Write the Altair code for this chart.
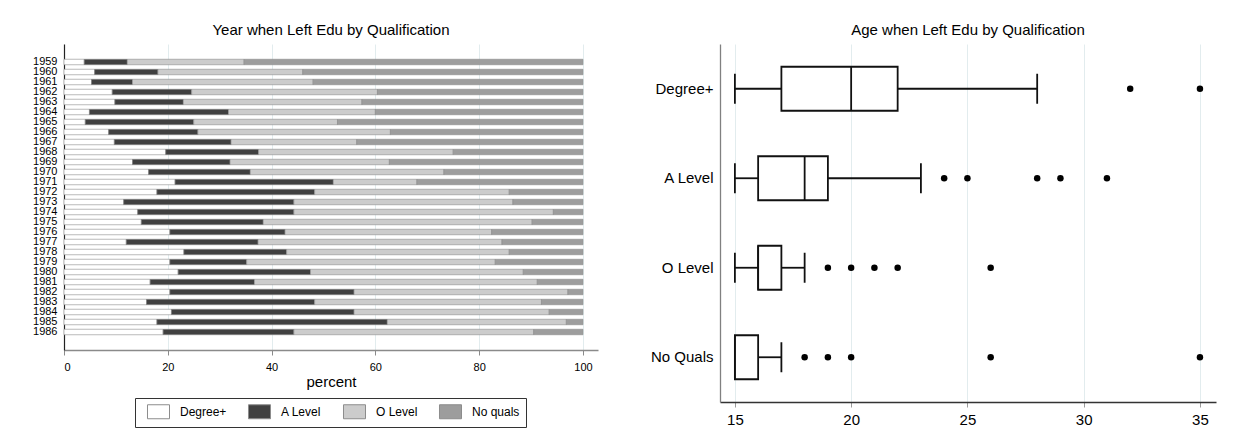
import altair as alt
import pandas as pd

FONT = "Liberation Sans"

# ---- left panel: share of each qualification by year left education (percent)
years = list(range(1959, 1987))
degree = [3.9, 5.9, 5.3, 9.3, 9.8, 4.9, 4.1, 8.6, 9.7, 19.6, 13.2, 16.3, 21.4, 17.9,
          11.5, 14.2, 14.9, 20.4, 12.0, 23.1, 20.4, 22.0, 16.6, 20.4, 15.9, 20.7, 17.9, 19.1]
a_level = [8.3, 12.2, 7.9, 15.3, 13.2, 26.8, 20.9, 17.2, 22.5, 17.9, 18.8, 19.6, 30.5, 30.4,
           32.8, 30.1, 23.5, 22.2, 25.4, 19.8, 14.8, 25.5, 20.1, 35.5, 32.4, 35.2, 44.4, 25.2]
o_level = [22.5, 27.9, 34.8, 35.8, 34.4, 28.3, 27.7, 37.1, 24.2, 37.5, 30.7, 37.3, 16.1, 37.5,
           42.2, 50.0, 51.8, 39.8, 47.0, 42.9, 47.9, 41.0, 54.5, 41.2, 43.7, 37.6, 34.5, 46.2]
no_quals = [65.3, 54.0, 52.0, 39.6, 42.6, 40.0, 47.3, 37.1, 43.6, 25.0, 37.3, 26.8, 32.0, 14.2,
            13.5, 5.7, 9.8, 17.6, 15.6, 14.2, 16.9, 11.5, 8.8, 2.9, 8.0, 6.5, 3.2, 9.5]
share_quals = ["Degree+", "A Level", "O Level", "No quals"]
share_shades = ["#ffffff", "#404040", "#cccccc", "#9d9d9d"]

# ---- right panel: age left education, box-plot summaries per qualification
box_groups = ["Degree+", "A Level", "O Level", "No Quals"]
whisker_lo = [15, 15, 15, 15]
quart_1 = [17, 16, 16, 15]
medians = [20, 18, 16, 15]
quart_3 = [22, 19, 17, 16]
whisker_hi = [28, 23, 18, 17]
outlier_group = ["Degree+", "Degree+",
                 "A Level", "A Level", "A Level", "A Level", "A Level",
                 "O Level", "O Level", "O Level", "O Level", "O Level",
                 "No Quals", "No Quals", "No Quals", "No Quals", "No Quals"]
outlier_age = [32, 35,
               24, 25, 28, 29, 31,
               19, 20, 21, 22, 26,
               18, 19, 20, 26, 35]

# long table for the stacked bars
rows = []
for i, yr in enumerate(years):
    for k, vals in enumerate([degree, a_level, o_level, no_quals]):
        rows.append({"year": str(yr), "qual": share_quals[k], "pct": vals[i], "rank": k})
shares = pd.DataFrame(rows)

# empty slots above and below the years give the plot region its margin
year_slots = ["top"] + [str(y) for y in years] + ["bottom"]

boxes = pd.DataFrame({"group": box_groups, "lo": whisker_lo, "q1": quart_1,
                      "med": medians, "q3": quart_3, "hi": whisker_hi})
outliers = pd.DataFrame({"group": outlier_group, "age": outlier_age})

GRID = "#e2ecee"

# legend swatch: 22x14 rectangle drawn to the right of a 14px symbol slot
SWATCH = "M-0.143,-1H3V1H-0.143Z"

left = alt.Chart(shares).mark_bar(stroke="#8c8c8c", strokeWidth=0.6).encode(
    x=alt.X("pct:Q", stack="zero",
            scale=alt.Scale(domain=[0, 102.9], nice=False, zero=True),
            axis=alt.Axis(values=[0, 20, 40, 60, 80, 100], title="percent",
                          labelFontSize=11, titleFontSize=15, titleFontWeight="normal",
                          titlePadding=2, tickSize=5, labelPadding=6,
                          domainColor="#8a8a8a", domainWidth=1.5, tickColor="#8a8a8a",
                          gridColor=GRID)),
    y=alt.Y("year:O",
            scale=alt.Scale(domain=year_slots, paddingInner=0.45, paddingOuter=0.525),
            axis=alt.Axis(title=None, labelFontSize=11, labelPadding=7, ticks=False,
                          labelOverlap=False, labelBound=False, grid=False,
                          labelExpr="length(datum.label) == 4 ? datum.label : ''",
                          domainColor="#222222", domainWidth=1.2)),
    color=alt.Color("qual:N", scale=alt.Scale(domain=share_quals, range=share_shades),
                    legend=alt.Legend(orient="none", legendX=71, legendY=354,
                                      direction="horizontal", columns=4, title=None,
                                      symbolType=SWATCH, symbolSize=196,
                                      symbolStrokeColor="#8c8c8c", symbolStrokeWidth=1,
                                      symbolOpacity=1, labelFontSize=12, labelOffset=24,
                                      columnPadding=15, padding=6, strokeColor="#333333",
                                      fillColor="#ffffff", cornerRadius=0,
                                      labelFont=FONT, labelColor="#000000")),
    order=alt.Order("rank:Q"),
).properties(
    width=534, height=306,
    title=alt.TitleParams("Year when Left Edu by Qualification", frame="group"),
)

xr = alt.Scale(domain=[14.36, 35.69], nice=False, zero=False)
yr = alt.Scale(domain=box_groups, paddingInner=0, paddingOuter=0)
x_axis = alt.Axis(values=[15, 20, 25, 30, 35], title=None, labelFontSize=15,
                  tickSize=5, labelPadding=5, domainColor="#333333", domainWidth=1.3,
                  tickColor="#9a9a9a", gridColor=GRID)
y_axis = alt.Axis(title=None, labelFontSize=15, labelPadding=7, ticks=False, grid=False,
                  domainColor="#808080", domainWidth=1.3)
INK = "#111111"
LW = 1.8

base = alt.Chart(boxes)
whisk_left = base.mark_rule(color=INK, strokeWidth=LW).encode(
    x=alt.X("lo:Q", scale=xr, axis=x_axis), x2="q1:Q",
    y=alt.Y("group:N", scale=yr, axis=y_axis, sort=box_groups))
whisk_right = base.mark_rule(color=INK, strokeWidth=LW).encode(
    x=alt.X("q3:Q", scale=xr), x2="hi:Q", y=alt.Y("group:N", scale=yr, sort=box_groups))
cap_lo = base.mark_tick(color=INK, thickness=LW, size=30, opacity=1).encode(
    x=alt.X("lo:Q", scale=xr), y=alt.Y("group:N", scale=yr, sort=box_groups))
cap_hi = base.mark_tick(color=INK, thickness=LW, size=30, opacity=1).encode(
    x=alt.X("hi:Q", scale=xr), y=alt.Y("group:N", scale=yr, sort=box_groups))
box = base.mark_bar(fill="#ffffff", stroke=INK, strokeWidth=LW, size=44, opacity=1).encode(
    x=alt.X("q1:Q", scale=xr), x2="q3:Q", y=alt.Y("group:N", scale=yr, sort=box_groups))
mid = base.mark_tick(color=INK, thickness=LW, size=44, opacity=1).encode(
    x=alt.X("med:Q", scale=xr), y=alt.Y("group:N", scale=yr, sort=box_groups))
dots = alt.Chart(outliers).mark_circle(color="#000000", size=42, opacity=1).encode(
    x=alt.X("age:Q", scale=xr), y=alt.Y("group:N", scale=yr, sort=box_groups))

right = alt.layer(whisk_left, whisk_right, cap_lo, cap_hi, box, mid, dots).properties(
    width=496, height=358,
    title=alt.TitleParams("Age when Left Edu by Qualification", frame="group"),
)

chart = alt.hconcat(left, right, spacing=52).resolve_scale(
    color="independent", x="independent", y="independent"
).resolve_legend(color="independent").properties(
    padding={"left": 32, "top": 23, "right": 5, "bottom": 5},
    background="#ffffff",
).configure_view(stroke=None).configure_axis(
    labelFont=FONT, titleFont=FONT, labelColor="#000000", titleColor="#000000",
).configure_title(
    font=FONT, fontSize=15, fontWeight="normal", color="#000000", anchor="middle", offset=6,
)

chart.save("out.html", embed_options={"renderer": "svg", "actions": False})
